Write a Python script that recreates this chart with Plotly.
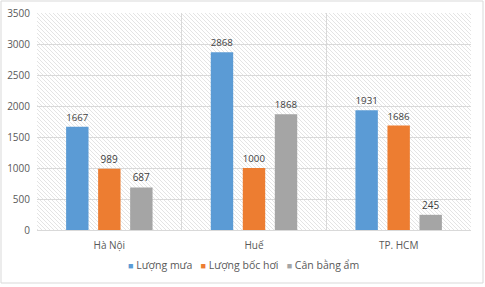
import plotly.graph_objects as go
import base64

categories = ["Hà Nội", "Huế", "TP. HCM"]
series_names = ["Lượng mưa", "Lượng bốc hơi", "Cân bằng ẩm"]
luong_mua = [1667, 2868, 1931]
luong_boc_hoi = [989, 1000, 1686]
can_bang_am = [687, 1868, 245]
y_ticks = [0, 500, 1000, 1500, 2000, 2500, 3000, 3500]

colors = ["#5B9BD5", "#ED7D31", "#A5A5A5"]
values = [luong_mua, luong_boc_hoi, can_bang_am]

fig = go.Figure()
for name, vals, c in zip(series_names, values, colors):
    fig.add_trace(go.Bar(
        x=categories, y=vals, name=name, marker_color=c,
        marker_line_width=0, showlegend=False,
        text=[str(v) for v in vals], textposition="outside",
        textfont=dict(size=10, color="#404040", family="Open Sans, Arial"),
        cliponaxis=False,
    ))

svg = ('<svg xmlns="http://www.w3.org/2000/svg" width="434" height="217">'
       '<defs><pattern id="p" width="4" height="4" patternUnits="userSpaceOnUse">'
       '<path d="M-1,-1 L5,5" stroke="#e4e4e4" stroke-width="1"/></pattern></defs>'
       '<rect width="434" height="217" fill="url(#p)"/></svg>')
src = "data:image/svg+xml;base64," + base64.b64encode(svg.encode()).decode()

legend_text = "&nbsp;&nbsp;&nbsp;".join(
    f'<span style="color:{c};font-size:9px">■</span> {n}'
    for n, c in zip(series_names, colors)
)

fig.update_layout(
    width=485, height=287,
    margin=dict(l=37, r=14, t=13, b=57, autoexpand=False),
    paper_bgcolor="white", plot_bgcolor="white",
    barmode="group", bargap=0.336, bargroupgap=0.3,
    font=dict(family="Open Sans, Arial", color="#595959", size=10),
    showlegend=False,
    annotations=[dict(text=legend_text, xref="paper", yref="paper",
                      x=(243 - 37) / 434, y=(230 - 265) / 217,
                      xanchor="center", yanchor="middle",
                      showarrow=False, font=dict(size=10.5, color="#595959"))],
    images=[dict(source=src, xref="paper", yref="paper", x=0, y=1, sizex=1, sizey=1,
                 xanchor="left", yanchor="top", sizing="stretch", layer="below")],
    xaxis=dict(type="category", tickson="boundaries", showgrid=True, gridcolor="#d9d9d9",
               gridwidth=1, ticks="", showline=True, linecolor="#d9d9d9",
               tickfont=dict(size=10, color="#595959"), automargin=False,
               ticklabelstandoff=6),
    yaxis=dict(range=[0, 3500], tickvals=y_ticks, showgrid=True, gridcolor="#d9d9d9",
               zeroline=False, ticks="", showline=False, automargin=False,
               tickfont=dict(size=10, color="#595959"), ticklabelstandoff=6),
    shapes=[dict(type="rect", xref="paper", yref="paper",
                 x0=-36/434, x1=1+12/434, y0=-53/217, y1=1+12/217,
                 line=dict(color="#d9d9d9", width=1))],
)

fig.write_html("out.html")
